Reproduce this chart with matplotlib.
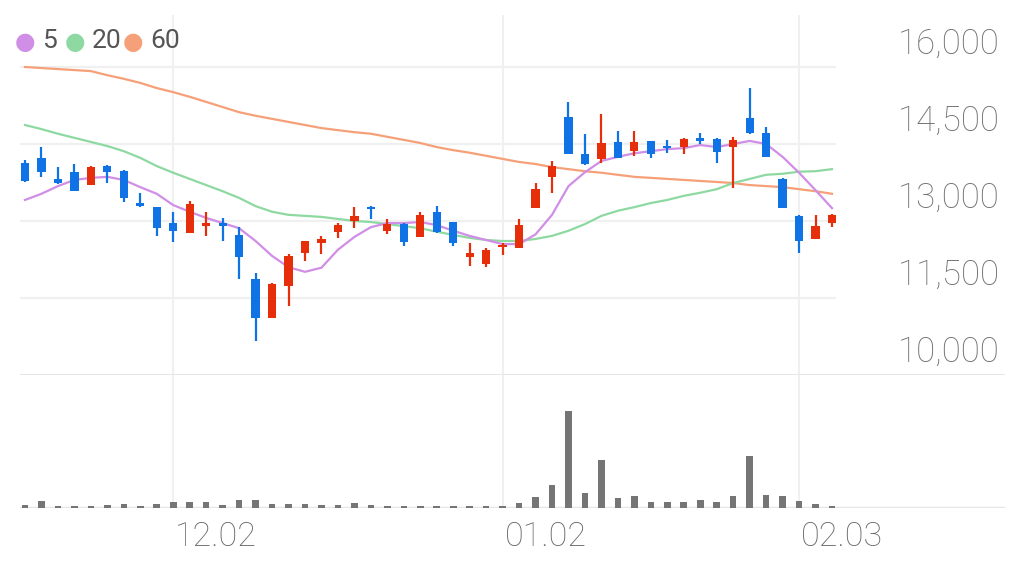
import matplotlib
matplotlib.use('Agg')
import matplotlib.pyplot as plt

# daily candles, 2024-11-19 .. 2025-02-05 (50 trading days)
opens = [14130, 14230, 13820, 13950, 13700, 14070, 13970, 13350, 13270, 12960,
         12770, 12900, 12960, 12730, 11870, 11110, 11730, 12380, 12570, 12790,
         13000, 13270, 12810, 12940, 12690, 13180, 12980, 12300, 12160, 12490,
         12470, 13250, 13860, 15030, 14310, 14210, 14540, 14360, 14560, 14460,
         14440, 14620, 14600, 14440, 15010, 14710, 13820, 13100, 12650, 12960]
closes = [13780, 13950, 13740, 13590, 14050, 13950, 13450, 13290, 12860, 12810,
          13330, 12960, 12900, 12300, 11110, 11770, 12320, 12610, 12650, 12920,
          13100, 13230, 12940, 12590, 13120, 12790, 12570, 12380, 12440, 12510,
          12920, 13620, 14070, 14310, 14110, 14520, 14230, 14540, 14300, 14420,
          14600, 14560, 14340, 14580, 14710, 14250, 13250, 12610, 12900, 13120]
highs = [14190, 14440, 14050, 14110, 14070, 14090, 13990, 13550, 13270, 13180,
         13390, 13180, 13060, 12880, 11990, 11790, 12360, 12620, 12710, 12960,
         13270, 13290, 13040, 12960, 13180, 13290, 12980, 12570, 12470, 12570,
         13040, 13740, 14170, 15320, 14700, 15080, 14750, 14750, 14560, 14580,
         14620, 14710, 14620, 14640, 15590, 14830, 13840, 13120, 13120, 13140]
lows = [13760, 13860, 13720, 13580, 13700, 13740, 13370, 13270, 12710, 12590,
        12770, 12710, 12610, 11870, 10660, 11110, 11340, 12220, 12360, 12670,
        12860, 13040, 12750, 12510, 12690, 12770, 12510, 12120, 12100, 12340,
        12470, 13250, 13540, 14300, 14100, 14130, 14220, 14270, 14230, 14320,
        14300, 14500, 14130, 13640, 14700, 14240, 13250, 12380, 12650, 12880]
volumes = [33, 70, 23, 23, 23, 27, 43, 17, 43, 60,
           60, 57, 30, 80, 80, 43, 40, 40, 30, 27,
           50, 27, 20, 17, 17, 17, 17, 17, 17, 17,
           50, 110, 227, 970, 153, 477, 103, 117, 60, 60,
           60, 77, 60, 117, 523, 130, 117, 73, 43, 23]

# moving averages as drawn
ma5 = [13410, 13530, 13680, 13800, 13840, 13860, 13800, 13660, 13530, 13310,
       13180, 13060, 12960, 12860, 12610, 12320, 12100, 12010, 12090, 12440,
       12690, 12880, 12960, 12960, 12980, 12920, 12810, 12710, 12630, 12550,
       12550, 12740, 13120, 13680, 13950, 14170, 14250, 14320, 14360, 14400,
       14420, 14480, 14440, 14500, 14560, 14500, 14250, 13940, 13600, 13250]
ma20 = [14870, 14790, 14700, 14620, 14540, 14460, 14360, 14230, 14070, 13940,
        13820, 13700, 13580, 13450, 13290, 13180, 13120, 13100, 13080, 13040,
        13000, 12980, 12940, 12900, 12860, 12790, 12730, 12670, 12630, 12610,
        12610, 12650, 12710, 12810, 12940, 13100, 13200, 13270, 13350, 13410,
        13490, 13550, 13620, 13740, 13820, 13900, 13920, 13960, 13970, 14010]
ma60 = [16000, 15980, 15960, 15940, 15920, 15840, 15770, 15690, 15590, 15510,
        15420, 15320, 15220, 15120, 15050, 14990, 14930, 14870, 14810, 14770,
        14730, 14700, 14640, 14580, 14520, 14440, 14380, 14330, 14270, 14210,
        14150, 14110, 14050, 14010, 13970, 13940, 13900, 13860, 13840, 13820,
        13800, 13780, 13760, 13740, 13700, 13680, 13660, 13620, 13580, 13530]

price_ticks = [16000, 14500, 13000, 11500, 10000]
date_labels = ['12.02', '01.02', '02.03']
date_pos = [9, 29, 47]
ma_names = ['5', '20', '60']
ma_colors = ['#d08ee6', '#8ed9a2', '#f5a078']

UP = '#e62e0a'
DOWN = '#0f73e6'
GRID = '#f0f0f0'
LINE = '#e6e6e6'

plt.rcParams['font.family'] = ['Roboto', 'DejaVu Sans']

W, H = 1025, 570
fig = plt.figure(figsize=(W / 100, H / 100), dpi=100)

def px_rect(x0, y0, x1, y1):
    return [x0 / W, 1 - y1 / H, (x1 - x0) / W, (y1 - y0) / H]

ax = fig.add_axes(px_rect(20, 15, 1005, 375))
axv = fig.add_axes(px_rect(20, 375, 1005, 508))

step = 16.47
x_left = -5 / step
x_right = 49 + 173 / step
for a in (ax, axv):
    a.set_xlim(x_left, x_right)
    a.axis('off')
    for p in date_pos:
        a.axvline(p, color=GRID, lw=1.5, zorder=0)

ax.set_ylim(10000, 16000 + 52 * 1500 / 77)
ax.hlines(price_ticks[:-1], x_left, 49 + 4 / step, color=GRID, lw=1.6, zorder=0)
ax.axhline(10000, color=LINE, lw=2.2, zorder=1)

idx = list(range(len(closes)))

# moving averages
for vals, c in zip([ma60, ma20, ma5], [ma_colors[2], ma_colors[1], ma_colors[0]]):
    ax.plot(idx, vals, color=c, lw=1.6, zorder=2)

# candles
for i in idx:
    col = UP if closes[i] >= opens[i] else DOWN
    ax.vlines(i, lows[i], highs[i], color=col, lw=1.6, zorder=3)
    bottom = min(opens[i], closes[i])
    height = max(abs(closes[i] - opens[i]), 35)
    ax.bar(i, height, bottom=bottom, width=0.5, color=col, zorder=4)

# price labels (drawn above their grid line)
for t in price_ticks:
    ax.annotate(f'{t:,}', xy=(980 / 985, t), xycoords=ax.get_yaxis_transform(),
                xytext=(0, 16.5), textcoords='offset points',
                ha='right', va='center', fontsize=25, color='#707070',
                fontweight='light', annotation_clip=False)

# volume
axv.set_ylim(0, 970 * 133 / 97)
axv.bar(idx, volumes, width=0.4, color='#757575', zorder=2)
axv.axhline(0, color=LINE, lw=2.5, zorder=1)

for lab, p in zip(date_labels, date_pos):
    axv.annotate(lab, xy=(p, 0), xycoords='data', xytext=(1.5, -21),
                 textcoords='offset points', ha='left', va='center',
                 fontsize=24.5, color='#666666', fontweight='light',
                 annotation_clip=False)

# legend
lx = [25, 75, 133]
for name, c, x in zip(ma_names, ma_colors, lx):
    fig.text(x / W, 1 - 42 / H, '\u25cf', color=c, fontsize=17,
             ha='center', va='center', family=['DejaVu Sans'])
    fig.text((x + 17) / W, 1 - 41 / H, name, color='#555555', fontsize=19,
             ha='left', va='center')

fig.savefig('out.png', dpi=100)
